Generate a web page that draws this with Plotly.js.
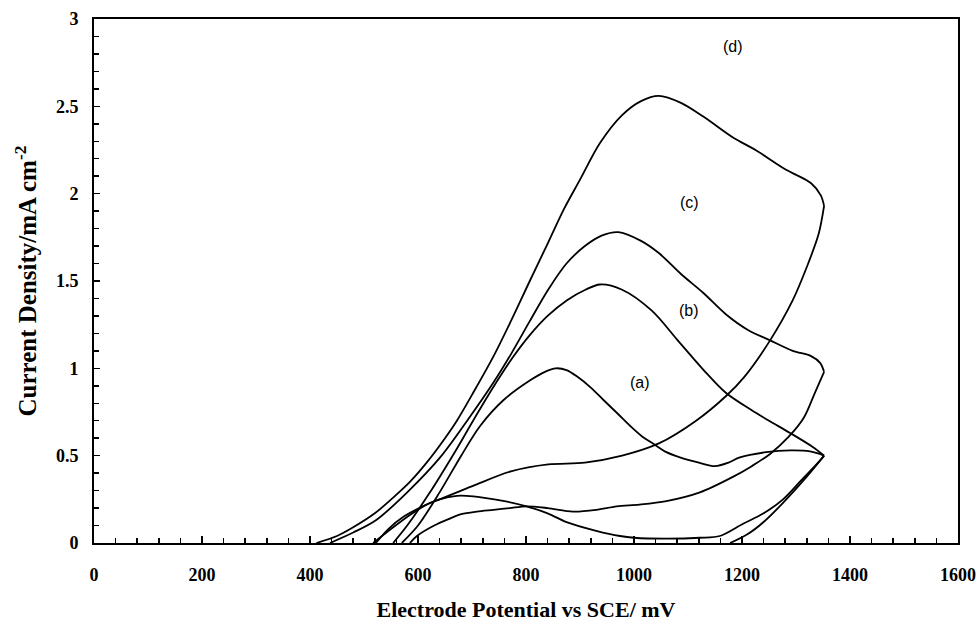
<!DOCTYPE html>
<html>
<head>
<meta charset="utf-8">
<script src="https://cdn.plot.ly/plotly-3.0.1.min.js"></script>
<style>html,body{margin:0;padding:0;background:#fff;}#chart{width:980px;height:628px;}</style>
</head>
<body>
<div id="chart"></div>
<script>
// Electrode potential (mV) and current density (mA cm^-2)
const dFwdX = [412,450,480,520,554,585,616,650,672,704,740,772,807,841,870,900,937,978,1013,1046,1087,1129,1184,1225,1280,1328,1346,1352];
const dFwdY = [0,0.04,0.09,0.17,0.26,0.35,0.46,0.60,0.70,0.87,1.07,1.27,1.50,1.72,1.91,2.08,2.29,2.45,2.53,2.56,2.52,2.44,2.32,2.25,2.14,2.06,1.99,1.93];
const dRevX = [1352,1342,1320,1294,1252,1204,1170,1115,1046,978,909,841,772,704,672,640,616,585,550,517];
const dRevY = [1.93,1.77,1.58,1.39,1.16,0.95,0.84,0.70,0.57,0.50,0.46,0.45,0.41,0.33,0.29,0.25,0.22,0.16,0.08,0];

const cFwdX = [437,480,522,580,641,691,740,772,807,841,875,909,940,971,1013,1046,1087,1129,1170,1211,1252,1294,1328,1345,1352];
const cFwdY = [0,0.06,0.13,0.29,0.49,0.70,0.92,1.08,1.27,1.45,1.60,1.70,1.76,1.78,1.73,1.66,1.54,1.43,1.31,1.22,1.16,1.10,1.07,1.03,0.98];
const cRevX = [1352,1335,1315,1287,1252,1218,1184,1122,1060,1010,968,930,887,840,801,770,740,709,680,659,630,598,585];
const cRevY = [0.98,0.86,0.72,0.61,0.51,0.44,0.38,0.29,0.24,0.22,0.21,0.19,0.18,0.20,0.21,0.20,0.19,0.18,0.165,0.14,0.10,0.04,0];

const bFwdX = [554,580,620,670,702,739,775,807,840,876,910,937,978,1033,1081,1129,1170,1218,1250,1289,1331,1352];
const bFwdY = [0,0.10,0.28,0.53,0.70,0.89,1.06,1.19,1.30,1.39,1.45,1.48,1.45,1.33,1.16,0.99,0.86,0.76,0.70,0.63,0.55,0.50];
const bRevX = [1352,1344,1310,1276,1240,1202,1159,1122,1060,1000,974,930,875,840,801,760,720,690,672,640,609,573,545,522];
const bRevY = [0.50,0.47,0.36,0.25,0.17,0.11,0.04,0.03,0.025,0.03,0.04,0.07,0.12,0.17,0.21,0.24,0.26,0.27,0.27,0.25,0.21,0.15,0.08,0];

const aFwdX = [570,600,640,680,715,759,807,835,855,875,896,920,943,970,993,1015,1035,1060,1085,1120,1150,1175,1196,1245,1290,1326,1344,1352];
const aFwdY = [0,0.10,0.29,0.50,0.67,0.82,0.93,0.98,1.00,0.99,0.95,0.89,0.82,0.74,0.67,0.61,0.57,0.52,0.49,0.46,0.44,0.46,0.49,0.52,0.53,0.525,0.51,0.50];
const aRevX = [1352,1320,1276,1240,1210,1178];
const aRevY = [0.50,0.38,0.23,0.12,0.05,0];

const curveLabels = ['(a)', '(b)', '(c)', '(d)'];
const xTickVals = [0,200,400,600,800,1000,1200,1400,1600];
const yTickVals = [0,0.5,1,1.5,2,2.5,3];

const series = [
  [aFwdX, aFwdY], [aRevX, aRevY],
  [bFwdX, bFwdY], [bRevX, bRevY],
  [cFwdX, cFwdY], [cRevX, cRevY],
  [dFwdX, dFwdY], [dRevX, dRevY]
];

const traces = series.map(s => ({
  x: s[0], y: s[1], type: 'scatter', mode: 'lines',
  line: {color: '#000', width: 1.8, shape: 'spline', smoothing: 0.9},
  hoverinfo: 'skip', showlegend: false
}));

const labelPos = [[1011, 0.92], [1102, 1.33], [1102, 1.95], [1183, 2.84]];
const annotations = curveLabels.map((t, i) => ({
  x: labelPos[i][0], y: labelPos[i][1], xref: 'x', yref: 'y',
  text: t, showarrow: false,
  font: {family: 'Liberation Sans, Arial, sans-serif', size: 16, color: '#000'}
}));

const tickFont = {family: 'Liberation Serif, Times New Roman, serif', size: 18, color: '#000', weight: 'bold'};
const xTitleFont = {family: 'Liberation Serif, Times New Roman, serif', size: 22, color: '#000', weight: 'bold'};
const yTitleFont = {family: 'Liberation Serif, Times New Roman, serif', size: 25, color: '#000', weight: 'bold'};

const layout = {
  width: 980, height: 628,
  margin: {l: 94, r: 22, t: 19, b: 85},
  paper_bgcolor: '#fff', plot_bgcolor: '#fff',
  showlegend: false,
  annotations: annotations,
  xaxis: {
    range: [0, 1600], tickvals: xTickVals, ticktext: xTickVals.map(String),
    ticks: 'inside', ticklen: 7, tickwidth: 1.5, tickcolor: '#000',
    minor: {dtick: 40, ticks: 'inside', ticklen: 5, tickwidth: 1.5, tickcolor: '#000'},
    showline: true, linecolor: '#000', linewidth: 2, mirror: true,
    showgrid: false, zeroline: false, tickfont: tickFont,
    ticklabelstandoff: 14,
    title: {text: 'Electrode Potential vs SCE/ mV', font: xTitleFont, standoff: 18}
  },
  yaxis: {
    range: [0, 3], tickvals: yTickVals, ticktext: yTickVals.map(String),
    ticks: 'inside', ticklen: 6, tickwidth: 1.5, tickcolor: '#000',
    minor: {dtick: 0.1, ticks: 'inside', ticklen: 5, tickwidth: 1.5, tickcolor: '#000'},
    showline: true, linecolor: '#000', linewidth: 2, mirror: true,
    showgrid: false, zeroline: false, tickfont: tickFont,
    ticklabelstandoff: 10,
    title: {text: 'Current Density/mA cm<sup>-2</sup>', font: yTitleFont, standoff: 12}
  }
};

Plotly.newPlot('chart', traces, layout, {staticPlot: true, displayModeBar: false});
</script>
</body>
</html>
